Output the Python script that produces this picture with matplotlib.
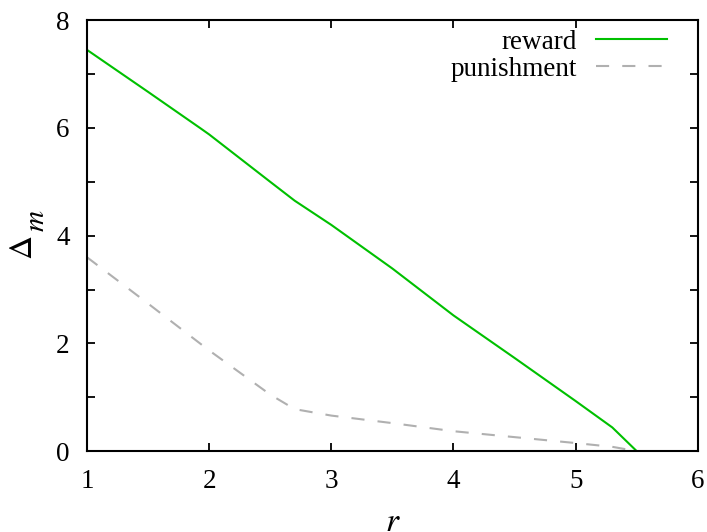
import matplotlib
matplotlib.use("Agg")
import matplotlib.pyplot as plt
from matplotlib.ticker import MultipleLocator, FuncFormatter

plt.rcParams['font.family'] = ['Liberation Serif', 'DejaVu Serif']
plt.rcParams['mathtext.fontset'] = 'stix'

r_reward = [1.0, 1.5, 1.925, 2.0, 2.5, 2.7, 3.0, 3.5, 4.0, 4.5, 5.0, 5.3, 5.5]
reward = [7.45, 6.67, 6.0, 5.88, 5.0, 4.65, 4.2, 3.39, 2.52, 1.73, 0.93, 0.44, 0.0]

r_pun = [1.0, 1.5, 1.925, 2.0, 2.5, 2.7, 3.0, 3.5, 4.0, 4.5, 5.0, 5.3, 5.5]
punishment = [3.6, 2.74, 2.0, 1.87, 1.05, 0.78, 0.66, 0.52, 0.37, 0.26, 0.15, 0.08, 0.0]

fig = plt.figure(figsize=(7.07, 5.32), dpi=100)
ax = fig.add_axes([0.123, 0.152, 0.864, 0.810])

ax.plot(r_reward, reward, color='#00c000', lw=1.5, label='reward')
ax.plot(r_pun, punishment, color='#b0b0b0', lw=1.5, dashes=(6.3, 6.3), label='punishment')

ax.set_xlim(1, 6)
ax.set_ylim(0, 8)
ax.xaxis.set_major_locator(MultipleLocator(1))
ax.yaxis.set_major_locator(MultipleLocator(1))
ax.yaxis.set_major_formatter(FuncFormatter(lambda v, p: f"{int(round(v))}" if int(round(v)) % 2 == 0 else ""))
ax.tick_params(direction='in', length=6, width=1.3, top=True, right=True, labelsize=19.5)
ax.tick_params(axis='x', pad=13)
ax.tick_params(axis='y', pad=12.5)
for s in ax.spines.values():
    s.set_linewidth(1.5)

ax.set_xlabel(r'$r$', fontsize=24, va='baseline')
ax.xaxis.set_label_coords(0.5, -0.186)
# y label: Delta with subscript m
fig.text(24 / 707, 1 - 248 / 532, r'$\Delta$', fontsize=24, rotation=90,
         ha='center', va='center')
fig.text(37 / 707, 1 - 221 / 532, r'$m$', fontsize=21, rotation=90,
         ha='center', va='center')

leg = ax.legend(loc='upper right', bbox_to_anchor=(0.949, 0.978), frameon=False,
                markerfirst=False, fontsize=19.5, handlelength=2.6, handletextpad=0.7,
                labelspacing=0.08, borderaxespad=0, borderpad=0)
for t in leg.get_texts():
    t.set_ha('right')

fig.savefig('out.png', dpi=100)
